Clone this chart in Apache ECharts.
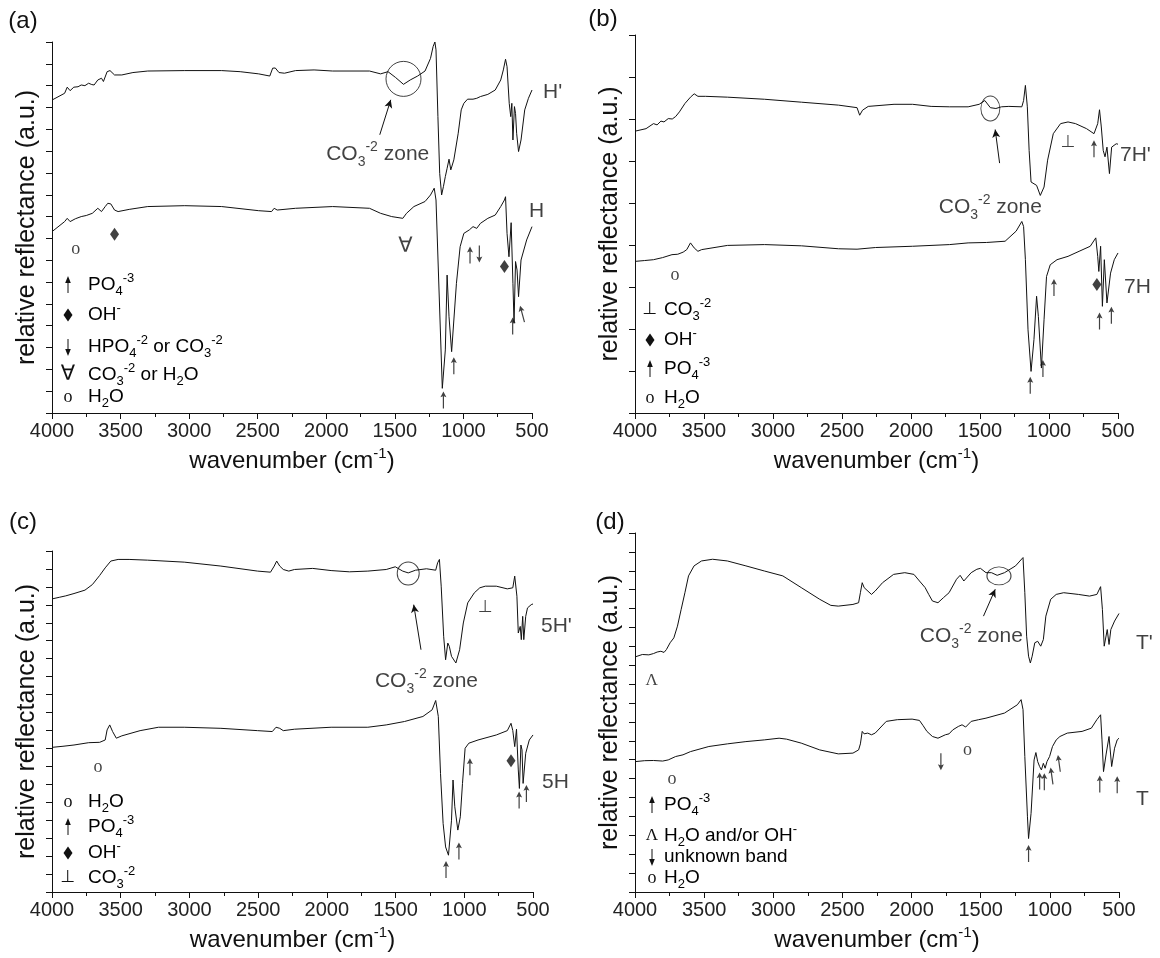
<!DOCTYPE html>
<html>
<head>
<meta charset="utf-8">
<script src="https://cdn.jsdelivr.net/npm/echarts@6/dist/echarts.min.js"></script>
<style>
  html, body { margin: 0; background: #fff; }
  #chart { width: 1160px; height: 958px; }
</style>
</head>
<body>
<div id="chart"></div>
<script>
const FONT = '"Liberation Sans", Arial, sans-serif';
const SERIF = '"Liberation Serif", "DejaVu Serif", serif';
const INK = '#111';

// ---- spectra: [wavenumber, relative reflectance in tick units] ----
const specHp = [[4000,14.34],[3908,14.65],[3889,14.93],[3868,14.77],[3841,14.93],[3810,14.95],[3787,15.03],[3760,15.0],[3733,15.11],[3710,15.05],[3693,15.03],[3666,15.26],[3639,15.34],[3625,15.19],[3598,15.64],[3577,15.69],[3544,15.49],[3491,15.49],[3410,15.6],[3302,15.67],[3032,15.69],[2763,15.69],[2628,15.64],[2493,15.54],[2412,15.44],[2391,15.8],[2372,15.81],[2345,15.6],[2305,15.57],[2224,15.69],[2089,15.72],[1954,15.67],[1685,15.67],[1604,15.54],[1550,15.64],[1496,15.38],[1437,15.06],[1388,15.26],[1334,15.44],[1280,15.67],[1240,16.25],[1221,16.79],[1208,17.0],[1200,16.64],[1186,13.58],[1173,10.98],[1159,9.99],[1146,10.37],[1132,10.83],[1119,11.21],[1105,11.63],[1092,11.14],[1070,11.6],[1038,12.82],[1016,13.89],[997,14.19],[970,14.38],[930,14.38],[903,14.42],[876,14.5],[822,14.6],[768,14.8],[728,15.26],[709,15.72],[693,16.21],[682,15.87],[666,14.19],[655,13.58],[647,14.19],[639,12.51],[628,14.04],[620,13.73],[612,12.82],[598,11.98],[580,12.51],[553,13.89],[526,14.42],[500,14.8]];
const specH = [[4000,8.31],[3908,8.77],[3889,8.92],[3868,8.77],[3830,8.9],[3787,9.0],[3750,9.05],[3706,9.15],[3666,9.38],[3652,9.46],[3639,9.23],[3612,9.46],[3593,9.61],[3571,9.58],[3544,9.3],[3518,9.23],[3437,9.33],[3302,9.46],[3032,9.5],[2763,9.46],[2493,9.27],[2399,9.23],[2380,9.38],[2358,9.3],[2224,9.38],[1954,9.46],[1685,9.38],[1604,9.15],[1523,9.0],[1442,8.92],[1415,9.15],[1361,9.46],[1280,9.69],[1240,9.99],[1213,10.3],[1200,9.76],[1154,1.13],[1132,2.89],[1119,6.32],[1105,4.41],[1086,2.81],[1051,5.94],[1024,7.62],[997,8.23],[957,8.39],[930,8.54],[903,8.46],[876,8.69],[822,8.92],[768,9.07],[728,9.46],[701,9.76],[693,9.91],[682,8.23],[668,7.16],[652,8.72],[639,5.94],[631,4.11],[620,6.94],[609,6.55],[598,5.33],[580,7.01],[539,7.93],[500,8.54]];
const spec7Hp = [[4000,6.71],[3920,6.77],[3866,6.89],[3840,6.86],[3812,6.95],[3790,6.93],[3759,7.01],[3730,7.0],[3705,7.06],[3678,7.17],[3638,7.37],[3598,7.52],[3571,7.6],[3544,7.54],[3490,7.54],[3330,7.52],[3061,7.47],[2793,7.4],[2525,7.33],[2391,7.27],[2372,7.09],[2351,7.21],[2310,7.3],[2123,7.35],[1989,7.35],[1854,7.3],[1720,7.29],[1586,7.29],[1506,7.35],[1465,7.44],[1425,7.27],[1385,7.25],[1345,7.29],[1291,7.3],[1197,7.29],[1184,7.44],[1171,7.8],[1157,7.29],[1144,6.25],[1130,5.5],[1117,5.54],[1090,5.42],[1063,5.18],[1036,5.38],[1010,6.02],[969,6.65],[916,6.89],[862,6.93],[808,6.89],[728,6.77],[674,6.65],[647,6.89],[634,7.22],[621,6.81],[607,6.25],[594,6.1],[580,6.33],[562,5.7],[546,6.33],[513,6.41],[500,6.4]];
const spec7H = [[4000,3.61],[3930,3.63],[3866,3.65],[3800,3.7],[3732,3.77],[3690,3.78],[3651,3.83],[3625,3.89],[3598,4.05],[3571,3.93],[3544,3.85],[3517,3.89],[3330,3.99],[3061,4.01],[2793,3.98],[2525,3.91],[2391,3.9],[2257,3.94],[1989,3.97],[1720,4.01],[1586,4.05],[1452,4.06],[1318,4.09],[1238,4.33],[1197,4.56],[1184,4.44],[1171,3.65],[1152,1.98],[1130,0.99],[1109,1.75],[1090,2.78],[1077,2.3],[1055,1.07],[1036,2.22],[1018,3.25],[991,3.53],[942,3.65],[862,3.73],[782,3.85],[701,3.97],[661,4.17],[647,3.73],[639,3.37],[626,3.97],[613,2.54],[599,3.65],[580,2.62],[554,3.33],[527,3.65],[500,3.81]];
const spec5Hp = [[4000,16.33],[3947,16.42],[3900,16.5],[3840,16.63],[3760,16.82],[3706,17.13],[3653,17.64],[3613,18.06],[3572,18.44],[3519,18.53],[3439,18.53],[3305,18.49],[3038,18.38],[2771,18.16],[2504,17.88],[2410,17.82],[2383,18.16],[2365,18.44],[2343,18.16],[2317,17.97],[2277,17.88],[2236,17.97],[2103,18.03],[1969,17.91],[1836,17.84],[1702,17.88],[1568,17.97],[1502,18.12],[1448,17.88],[1408,17.78],[1355,17.93],[1275,18.01],[1208,17.93],[1194,18.34],[1181,18.53],[1168,17.04],[1150,14.25],[1136,12.94],[1120,13.87],[1109,13.69],[1093,13.13],[1061,12.76],[1034,13.5],[1007,14.99],[975,16.11],[927,16.67],[887,16.95],[847,17.04],[767,17.04],[687,16.89],[647,16.95],[633,17.6],[617,16.48],[607,14.43],[593,14.8],[585,14.06],[575,15.36],[567,14.06],[553,15.36],[540,15.83],[527,15.88],[513,16.01],[500,16.05]];
const spec5H = [[4000,8.06],[3920,8.12],[3840,8.19],[3733,8.32],[3653,8.34],[3613,8.47],[3599,9.03],[3580,9.31],[3559,8.94],[3532,8.57],[3492,8.7],[3359,8.99],[3225,9.18],[3038,9.18],[2771,9.12],[2504,8.99],[2397,8.94],[2370,9.18],[2343,9.12],[2317,8.99],[2236,9.07],[1969,9.18],[1702,9.18],[1568,9.31],[1435,9.5],[1301,9.78],[1234,10.15],[1208,10.67],[1189,9.78],[1173,6.61],[1154,3.82],[1136,2.51],[1115,2.05],[1093,4.0],[1082,6.24],[1069,4.75],[1047,3.45],[1029,4.19],[1013,6.05],[994,8.01],[967,8.29],[900,8.47],[767,8.75],[687,8.99],[660,9.4],[647,8.99],[633,8.1],[620,9.07],[607,6.8],[599,5.77],[588,8.19],[580,7.92],[572,6.05],[553,7.73],[527,8.47],[500,8.75]];
const specTp = [[4000,12.44],[3947,12.57],[3900,12.55],[3866,12.62],[3840,12.7],[3813,12.74],[3790,12.68],[3773,12.83],[3746,13.19],[3719,13.45],[3693,14.07],[3666,14.96],[3639,15.84],[3613,16.73],[3573,17.26],[3519,17.52],[3439,17.61],[3332,17.52],[3198,17.26],[3065,16.99],[2931,16.73],[2798,16.11],[2664,15.49],[2584,15.17],[2530,15.13],[2424,15.22],[2383,15.31],[2370,15.84],[2357,16.37],[2343,16.11],[2330,16.02],[2290,15.75],[2263,15.93],[2210,16.37],[2130,16.81],[2049,16.9],[1983,16.81],[1943,16.46],[1902,16.11],[1876,15.75],[1849,15.4],[1809,15.31],[1769,15.58],[1729,15.84],[1675,16.55],[1649,16.76],[1622,16.46],[1569,16.9],[1528,17.08],[1502,17.13],[1462,16.9],[1422,16.9],[1381,16.76],[1328,16.9],[1248,17.26],[1194,17.7],[1181,15.84],[1168,13.54],[1154,12.48],[1141,12.12],[1128,12.48],[1109,13.19],[1088,13.27],[1066,13.01],[1047,13.36],[1029,14.6],[994,15.49],[954,15.75],[900,15.84],[794,15.75],[713,15.66],[660,15.75],[633,16.16],[620,14.96],[607,13.01],[599,12.92],[585,13.89],[572,13.1],[559,13.89],[532,14.34],[500,14.74]];
const specT = [[4000,6.9],[3930,6.95],[3866,6.96],[3800,6.93],[3760,6.99],[3706,7.17],[3653,7.26],[3599,7.43],[3466,7.7],[3332,7.84],[3198,7.96],[3065,8.05],[2958,8.14],[2904,8.09],[2798,7.88],[2664,7.52],[2530,7.31],[2424,7.35],[2383,7.52],[2370,7.84],[2357,8.5],[2343,8.37],[2317,8.41],[2290,8.32],[2263,8.41],[2183,9.03],[2103,9.12],[1996,9.15],[1943,9.08],[1916,8.8],[1889,8.5],[1849,8.23],[1809,8.14],[1756,8.32],[1729,8.37],[1702,8.58],[1662,8.76],[1635,8.85],[1609,8.73],[1569,9.03],[1515,9.12],[1462,9.2],[1328,9.47],[1235,9.91],[1208,10.18],[1194,9.65],[1181,7.17],[1162,3.98],[1154,2.83],[1136,4.16],[1114,6.99],[1101,7.38],[1088,6.9],[1074,6.64],[1061,6.46],[1047,6.81],[1034,6.55],[1021,6.9],[1002,7.17],[981,7.7],[954,8.05],[927,8.23],[874,8.41],[767,8.5],[700,8.67],[660,9.12],[633,9.38],[623,8.05],[612,6.37],[593,7.3],[572,8.23],[553,6.64],[545,6.7],[532,7.61],[513,8.05],[500,8.14]];

// ---- band markers: [wavenumber, level, tilt] ----
const upA = [[1146,0.6,0],[1070,2.17,0],[952,7.24,0],[641,3.99,0],[571,4.54,15]];
const downA = [[884,7.29,0]];
const diamondA = [[3544,8.19],[701,6.71]];
const glyphA = [[3827,7.5,'o'],[1423,7.65,'∀']];
const ringA = [[1437,15.31]];
const coArrowA = [[1610,12.75],[1530,14.35]];
const coTextA = [1625,11.85];

const upB = [[674,6.29,0],[1136,0.66,0],[1044,1.06,0],[964,2.99,0],[634,2.19,0],[548,2.33,0]];
const downB = [];
const diamondB = [[653,3.06]];
const glyphB = [[3710,3.27,'o'],[862,6.45,'⊥']];
const ringB = [[1425,7.25]];
const coArrowB = [[1358,5.95],[1390,6.75]];
const coTextB = [1425,4.89];

const upC = [[1133,1.25,0],[1039,2.29,0],[959,6.98,0],[601,5.12,0],[548,5.49,0]];
const downC = [];
const diamondC = [[660,7.32]];
const glyphC = [[3666,6.95,'o'],[847,15.83,'⊥']];
const ringC = [[1408,17.75]];
const coArrowC = [[1315,13.5],[1368,16.01]];
const coTextC = [1275,11.73];

const upD = [[1154,2.04,0],[1074,5.88,0],[1040,5.84,0],[986,6.14,8],[933,6.81,8],[639,5.72,0],[513,5.68,0]];
const downD = [[1788,6.9,0]];
const diamondD = [];
const glyphD = [[3880,11.2,'Λ'],[3733,5.96,'o'],[1595,7.49,'o']];
const ringD = [[1368,16.73]];
const coArrowD = [[1480,14.6],[1395,16.02]];
const coTextD = [1568,13.54];

// ---- legend rows: [symbol, rich text] ----
const legendA = [['up','{t|PO}{s|4}{p|-3}'],['dia','{t|OH}{p|-}'],['down','{t|HPO}{s|4}{p|-2}{t| or CO}{s|3}{p|-2}'],['∀','{t|CO}{s|3}{p|-2}{t| or H}{s|2}{t|O}'],['o','{t|H}{s|2}{t|O}']];
const legendB = [['⊥','{t|CO}{s|3}{p|-2}'],['dia','{t|OH}{p|-}'],['up','{t|PO}{s|4}{p|-3}'],['o','{t|H}{s|2}{t|O}']];
const legendC = [['o','{t|H}{s|2}{t|O}'],['up','{t|PO}{s|4}{p|-3}'],['dia','{t|OH}{p|-}'],['⊥','{t|CO}{s|3}{p|-2}']];
const legendD = [['up','{t|PO}{s|4}{p|-3}'],['Λ','{t|H}{s|2}{t|O and/or OH}{p|-}'],['down','{t|unknown band}'],['o','{t|H}{s|2}{t|O}']];

const rich = {
  t: { fontSize: 19, fontFamily: FONT, color: INK, lineHeight: 26, verticalAlign: 'middle' },
  s: { fontSize: 13, fontFamily: FONT, color: INK, lineHeight: 13, verticalAlign: 'bottom' },
  p: { fontSize: 13, fontFamily: FONT, color: INK, lineHeight: 13, verticalAlign: 'top' }
};
const richBig = {
  t: { fontSize: 21, fontFamily: FONT, color: INK, lineHeight: 29, verticalAlign: 'middle' },
  s: { fontSize: 14, fontFamily: FONT, color: INK, lineHeight: 14, verticalAlign: 'bottom' },
  p: { fontSize: 14, fontFamily: FONT, color: INK, lineHeight: 14, verticalAlign: 'top' }
};

const ARROW = 'path://M5,0L10,9L6,7.5L6,26L4,26L4,7.5L0,9Z';

const panels = [
  { letter: '(a)', letterPos: [23, 21], grid: { left: 52, top: 42, width: 480, height: 371 }, yMax: 17,
    specs: [[specHp, "H'", [11, 2]], [specH, 'H', [-3, -15]]],
    up: upA, down: downA, dia: diamondA, glyph: glyphA, ring: ringA, ringSize: [35, 35],
    coArrow: coArrowA, coText: coTextA, legend: legendA, legX: [68, 88], legY: [285, 315, 347, 375, 397] },
  { letter: '(b)', letterPos: [603, 19], grid: { left: 635, top: 35, width: 483, height: 378 }, yMax: 9,
    specs: [[spec7Hp, "7H'", [2, 11]], [spec7H, '7H', [6, 34]]],
    up: upB, down: downB, dia: diamondB, glyph: glyphB, ring: ringB, ringSize: [19, 25],
    coArrow: coArrowB, coText: coTextB, legend: legendB, legX: [650, 664], legY: [310, 340, 369, 398] },
  { letter: '(c)', letterPos: [23, 522], grid: { left: 52, top: 551, width: 481, height: 341 }, yMax: 19,
    specs: [[spec5Hp, "5H'", [8, 22]], [spec5H, '5H', [9, 47]]],
    up: upC, down: downC, dia: diamondC, glyph: glyphC, ring: ringC, ringSize: [22, 23],
    coArrow: coArrowC, coText: coTextC, legend: legendC, legX: [68, 88], legY: [802, 827, 853, 878] },
  { letter: '(d)', letterPos: [610, 522], grid: { left: 635, top: 533, width: 484, height: 359 }, yMax: 19,
    specs: [[specTp, "T'", [17, 30]], [specT, 'T', [17, 61]]],
    up: upD, down: downD, dia: diamondD, glyph: glyphD, ring: ringD, ringSize: [24, 18],
    coArrow: coArrowD, coText: coTextD, legend: legendD, legX: [652, 664], legY: [805, 836, 857, 878] }
];

const grids = [], xAxes = [], yAxes = [], series = [], graphics = [];

panels.forEach((p, i) => {
  grids.push(Object.assign({ outerBoundsMode: 'none', containLabel: false }, p.grid));
  xAxes.push({
    type: 'value', gridIndex: i, inverse: true, min: 500, max: 4000, interval: 500,
    axisLine: { lineStyle: { color: INK, width: 1 } },
    axisTick: { length: 6, lineStyle: { color: INK } },
    minorTick: { show: true, splitNumber: 2, length: 4, lineStyle: { color: INK } },
    splitLine: { show: false }, minorSplitLine: { show: false },
    axisLabel: { fontFamily: FONT, fontSize: 20, color: '#222', margin: 8, formatter: v => String(v) },
    name: '{t|wavenumber (cm}{p|-1}{t|)}', nameLocation: 'middle', nameGap: 33,
    nameTextStyle: { rich: {
      t: { fontSize: 24, fontFamily: FONT, color: INK, lineHeight: 30, verticalAlign: 'middle' },
      p: { fontSize: 15, fontFamily: FONT, color: INK, lineHeight: 15, verticalAlign: 'top' }
    } }
  });
  yAxes.push({
    type: 'value', gridIndex: i, min: 0, max: p.yMax, interval: 1,
    axisLine: { show: true, lineStyle: { color: INK, width: 1 } },
    axisTick: { show: true, length: 6, lineStyle: { color: INK } },
    axisLabel: { show: false }, splitLine: { show: false },
    name: 'relative reflectance (a.u.)', nameLocation: 'middle', nameGap: 12,
    nameTextStyle: { fontFamily: FONT, fontSize: 25, color: INK }
  });

  const items = [];
  p.specs.forEach(([data, label, off]) => {
    series.push({
      type: 'line', xAxisIndex: i, yAxisIndex: i, data: data, showSymbol: false, symbol: 'none',
      lineStyle: { color: INK, width: 1 }, silent: true, animation: false
    });
    items.push({
      value: data[data.length - 1], symbolSize: 0, itemStyle: { color: INK },
      label: { show: true, position: 'right', distance: 0, offset: off, formatter: label,
        fontFamily: FONT, fontSize: 21, color: INK }
    });
  });

  p.up.forEach(a => items.push({ value: [a[0], a[1]], symbol: ARROW, symbolSize: [6, 17], symbolRotate: a[2] || 0, itemStyle: { color: INK } }));
  p.down.forEach(a => items.push({ value: [a[0], a[1]], symbol: ARROW, symbolSize: [6, 17], symbolRotate: 180 + (a[2] || 0), itemStyle: { color: INK } }));
  p.dia.forEach(a => items.push({ value: a, symbol: 'diamond', symbolSize: [9, 13], itemStyle: { color: INK } }));
  p.glyph.forEach(a => items.push({
    value: [a[0], a[1]], symbolSize: 0, itemStyle: { color: INK },
    label: { show: true, position: 'inside', formatter: a[2], color: INK,
      fontFamily: (a[2] === 'o' || a[2] === 'Λ') ? SERIF : '"DejaVu Sans", sans-serif',
      fontSize: a[2] === 'o' ? 18 : (a[2] === '∀' ? 21 : 17) }
  }));
  p.ring.forEach(a => items.push({ value: a, symbol: 'circle', symbolSize: p.ringSize,
    itemStyle: { color: 'rgba(255,255,255,0)', borderColor: INK, borderWidth: 1 } }));
  items.push({
    value: p.coText, symbolSize: 0, itemStyle: { color: INK },
    label: { show: true, position: 'inside', formatter: '{t|CO}{s|3}{p|-2}{t| zone}', rich: richBig }
  });

  series.push({
    type: 'scatter', xAxisIndex: i, yAxisIndex: i, data: items, clip: false, silent: true, animation: false,
    markLine: {
      silent: true, animation: false, symbol: ['none', 'arrow'], symbolSize: [6, 8],
      lineStyle: { color: INK, width: 1, type: 'solid' }, label: { show: false },
      data: [[{ coord: p.coArrow[0] }, { coord: p.coArrow[1] }]]
    }
  });

  graphics.push({ type: 'text', x: p.letterPos[0], y: p.letterPos[1],
    style: { text: p.letter, fontFamily: FONT, fontSize: 24, fill: INK, align: 'center', verticalAlign: 'middle' } });

  p.legend.forEach(([sym, txt], k) => {
    const x = p.legX[0], y = p.legY[k];
    if (sym === 'up' || sym === 'down') {
      const d = sym === 'up' ? 1 : -1;
      graphics.push({ type: 'line', shape: { x1: x, y1: y + 8 * d, x2: x, y2: y - 3 * d }, style: { stroke: INK, lineWidth: 1 } });
      graphics.push({ type: 'polygon', shape: { points: [[x - 2.8, y - 2 * d], [x, y - 9 * d], [x + 2.8, y - 2 * d]] }, style: { fill: INK } });
    } else if (sym === 'dia') {
      graphics.push({ type: 'polygon', shape: { points: [[x, y - 6.5], [x + 4.5, y], [x, y + 6.5], [x - 4.5, y]] }, style: { fill: INK } });
    } else {
      graphics.push({ type: 'text', x: x, y: y,
        style: { text: sym, fill: INK, align: 'center', verticalAlign: 'middle',
          fontFamily: (sym === 'o' || sym === 'Λ') ? SERIF : '"DejaVu Sans", sans-serif',
          fontSize: sym === 'o' ? 18 : (sym === '∀' ? 21 : 17) } });
    }
    graphics.push({ type: 'text', x: p.legX[1], y: y,
      style: { text: txt, rich: rich, align: 'left', verticalAlign: 'middle' } });
  });
});

const chart = echarts.init(document.getElementById('chart'), null, { renderer: 'canvas' });
chart.setOption({
  backgroundColor: '#fff',
  animation: false,
  grid: grids,
  xAxis: xAxes,
  yAxis: yAxes,
  series: series,
  graphic: graphics
});
</script>
</body>
</html>
